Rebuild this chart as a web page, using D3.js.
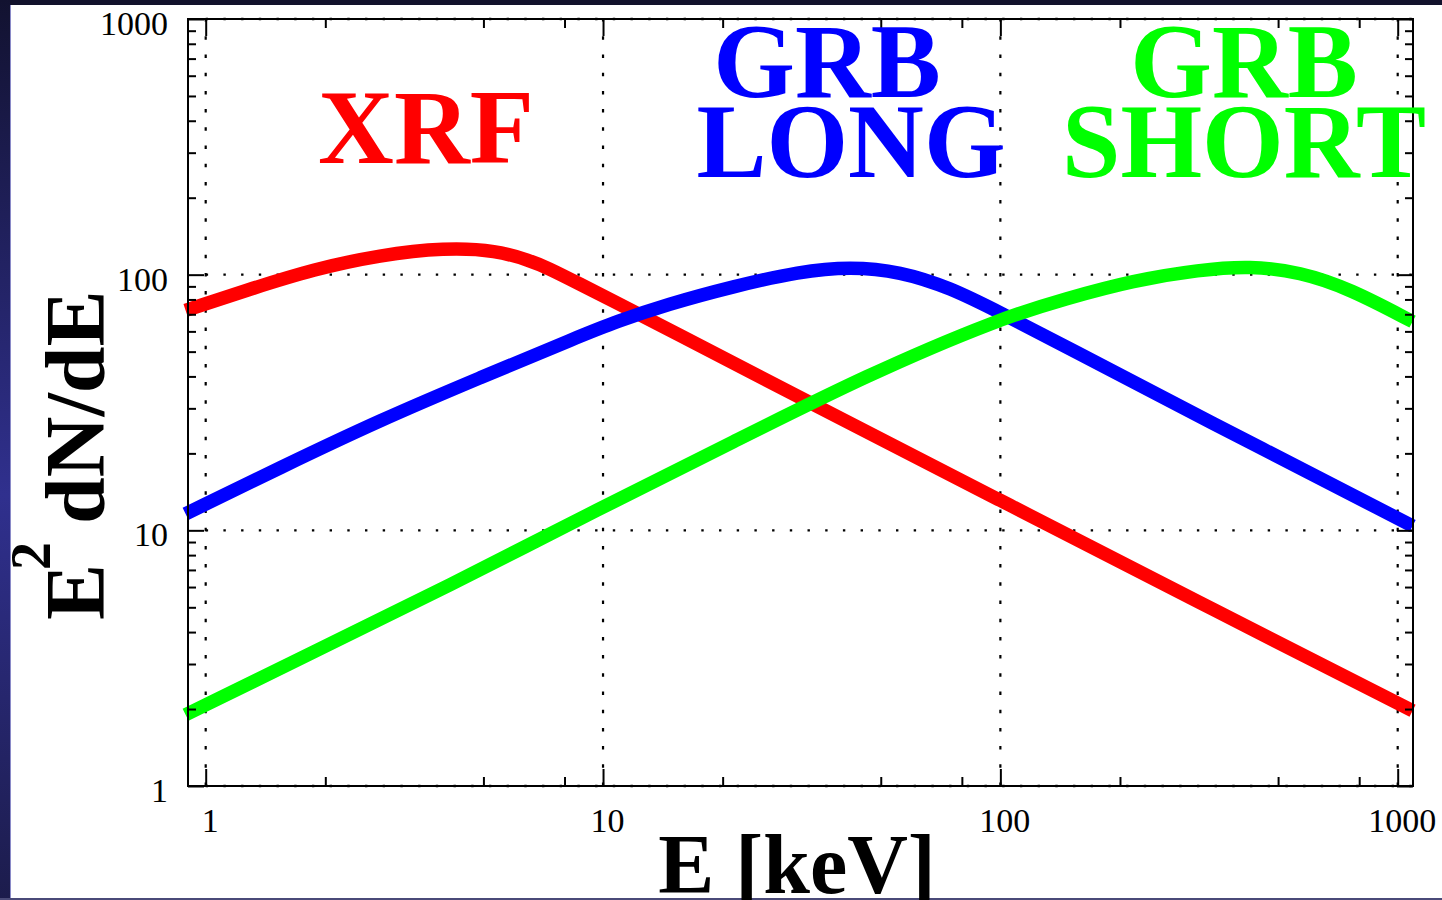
<!DOCTYPE html>
<html><head><meta charset="utf-8">
<script src="https://cdn.jsdelivr.net/npm/d3@7"></script>
<style>
html,body{margin:0;padding:0;background:#fff;overflow:hidden;}
svg{display:block;}
</style></head>
<body>
<svg id="c" width="1442" height="900"></svg>
<script>
// ---- data ----
const xrfE   = [0.89, 1.27, 1.87, 2.75, 4.0, 5.4, 6.55, 7.22, 8.75, 10.6, 14.5, 31.3, 100, 318, 1090];
const xrfV   = [72.5, 87, 105, 119.5, 127.5, 124.5, 113.5, 106.8, 91.9, 78.8, 61.5, 33, 13.1, 5.2, 1.97];
const longE  = [0.89, 1.54, 2.75, 4.9, 8.75, 10.8, 14.5, 21.3, 31.3, 41.9, 55.9, 74.7, 100, 147, 318, 1090];
const longV  = [11.6, 17.6, 27.0, 39.5, 57.5, 65.5, 76.5, 90, 103, 107.5, 103, 89, 71, 52, 27.8, 10.4];
const shortE = [0.89, 1.87, 4.04, 9.83, 21.3, 46.1, 100, 147, 216, 318, 425, 568, 759, 1090];
const shortV = [1.9, 3.35, 6.0, 12.2, 22.2, 40.5, 67.5, 80.8, 95, 104.5, 108.2, 102.5, 88, 65.5];
const xMajor = [1, 10, 100, 1000];
const yMajor = [1, 10, 100, 1000];
const xMinorMult = [2, 5, 8];
const yMinorMult = [2, 3, 4, 5, 6, 7, 8, 9];
const seriesColors = ["#ff0000", "#0000ff", "#00ff00"];

const svg = d3.select("#c");

// slide frame
const defs = svg.append("defs");
const lg = defs.append("linearGradient").attr("id","lb").attr("x1",0).attr("y1",0).attr("x2",0).attr("y2",1);
lg.append("stop").attr("offset","0").attr("stop-color","#121230");
lg.append("stop").attr("offset","0.55").attr("stop-color","#30308e");
lg.append("stop").attr("offset","1").attr("stop-color","#1c1c4c");
svg.append("rect").attr("x",0).attr("y",0).attr("width",1442).attr("height",900).attr("fill","#fff");
svg.append("rect").attr("x",0).attr("y",0).attr("width",10).attr("height",900).attr("fill","url(#lb)");
svg.append("rect").attr("x",10).attr("y",0).attr("width",1432).attr("height",5).attr("fill","#12122c");
svg.append("rect").attr("x",10).attr("y",5).attr("width",1).attr("height",893).attr("fill","#8a8ac8");
svg.append("rect").attr("x",0).attr("y",898).attr("width",1442).attr("height",2).attr("fill","#4a4a78");

// scales
const X0 = 188, X1 = 1413, Y0 = 19, Y1 = 786;
const x = d3.scaleLog().domain([1, 1000]).range([205.7, 1397.7]);
const y = d3.scaleLog().domain([1, 1000]).range([Y1, Y0]);

const xMinor = [], yMinor = [];
[0.1,1,10,100,1000].forEach(d => xMinorMult.forEach(m => { const v = d*m; const p = x(v); if (p > X0+1 && p < X1-1) xMinor.push(v); }));
[1,10,100].forEach(d => yMinorMult.forEach(m => yMinor.push(d*m)));

const plot = svg.append("g");

// dotted grid
plot.selectAll("line.gx").data(xMajor).join("line").attr("class","gx")
  .attr("x1", d => x(d)).attr("x2", d => x(d)).attr("y1", Y1).attr("y2", Y0)
  .attr("stroke","#000").attr("stroke-width",2.2).attr("stroke-dasharray","3.5,14.7");
plot.selectAll("line.gy").data(yMajor).join("line").attr("class","gy")
  .attr("y1", d => y(d)).attr("y2", d => y(d)).attr("x1", x(1)).attr("x2", X1)
  .attr("stroke","#000").attr("stroke-width",2.4).attr("stroke-dasharray","2.4,15.3");

// curves
const line = d3.line().x(d => x(d[0])).y(d => y(d[1])).curve(d3.curveBasis);
const series = [d3.zip(xrfE, xrfV), d3.zip(longE, longV), d3.zip(shortE, shortV)];
plot.selectAll("path.s").data(series).join("path").attr("class","s")
  .attr("d", line).attr("fill","none")
  .attr("stroke", (d,i) => seriesColors[i]).attr("stroke-width", 13.5)
  .attr("stroke-linecap","butt").attr("stroke-linejoin","round");

// axes
function styleAxis(g){
  g.select(".domain").remove();
  g.selectAll(".tick line").attr("stroke","#000").attr("stroke-width",2);
  g.selectAll("text").attr("font-family","'Liberation Serif','Times New Roman',serif").attr("font-size","34px").attr("fill","#000");
}
const fmt = d3.format("d");
// bottom
svg.append("g").attr("transform",`translate(0,${Y1})`)
  .call(d3.axisBottom(x).tickValues(xMajor).tickSizeInner(-17).tickSizeOuter(0).tickPadding(22).tickFormat(fmt))
  .call(styleAxis).call(g => g.selectAll("text").attr("dx", 4));
svg.append("g").attr("transform",`translate(0,${Y1})`)
  .call(d3.axisBottom(x).tickValues(xMinor).tickSizeInner(-9).tickSizeOuter(0).tickFormat(""))
  .call(styleAxis);
// top
svg.append("g").attr("transform",`translate(0,${Y0})`)
  .call(d3.axisTop(x).tickValues(xMajor).tickSizeInner(-17).tickSizeOuter(0).tickFormat(""))
  .call(styleAxis);
svg.append("g").attr("transform",`translate(0,${Y0})`)
  .call(d3.axisTop(x).tickValues(xMinor).tickSizeInner(-9).tickSizeOuter(0).tickFormat(""))
  .call(styleAxis);
// left
svg.append("g").attr("transform",`translate(${X0},0)`)
  .call(d3.axisLeft(y).tickValues(yMajor).tickSizeInner(-16).tickSizeOuter(0).tickPadding(20).tickFormat(fmt))
  .call(styleAxis).call(g => g.selectAll("text").attr("dy", "15.5px"));
svg.append("g").attr("transform",`translate(${X0},0)`)
  .call(d3.axisLeft(y).tickValues(yMinor).tickSizeInner(-8).tickSizeOuter(0).tickFormat(""))
  .call(styleAxis);
// right
svg.append("g").attr("transform",`translate(${X1},0)`)
  .call(d3.axisRight(y).tickValues(yMajor).tickSizeInner(-16).tickSizeOuter(0).tickFormat(""))
  .call(styleAxis);
svg.append("g").attr("transform",`translate(${X1},0)`)
  .call(d3.axisRight(y).tickValues(yMinor).tickSizeInner(-8).tickSizeOuter(0).tickFormat(""))
  .call(styleAxis);

// frame
svg.append("rect").attr("x",X0).attr("y",Y0).attr("width",X1-X0).attr("height",Y1-Y0)
  .attr("fill","none").attr("stroke","#000").attr("stroke-width",2);

// labels
const serif = "'Liberation Serif','Times New Roman',serif";
function big(txt, cx, by, col, size){
  svg.append("text").attr("x",cx).attr("y",by).attr("text-anchor","middle")
    .attr("font-family",serif).attr("font-weight","bold").attr("font-size",size+"px")
    .attr("fill",col).text(txt);
}
big("XRF", 426, 163, seriesColors[0], 105);
big("GRB", 827, 97, seriesColors[1], 105);
big("LONG", 851, 177, seriesColors[1], 105);
big("GRB", 1244, 97, seriesColors[2], 105);
big("SHORT", 1244, 177, seriesColors[2], 105);

// axis titles
svg.append("text").attr("x", 797).attr("y", 893).attr("text-anchor","middle")
  .attr("font-family",serif).attr("font-weight","bold").attr("font-size","84px").attr("fill","#000")
  .text("E [keV]");

const yt = svg.append("text").attr("transform","translate(104,620) rotate(-90)")
  .attr("font-family",serif).attr("font-weight","bold").attr("font-size","84px").attr("fill","#000");
yt.append("tspan").text("E");
yt.append("tspan").attr("font-size","56px").attr("dx",-6).attr("dy",-54).text("2");
yt.append("tspan").attr("dx",18).attr("dy",54).text("dN/dE");
</script>
</body></html>
